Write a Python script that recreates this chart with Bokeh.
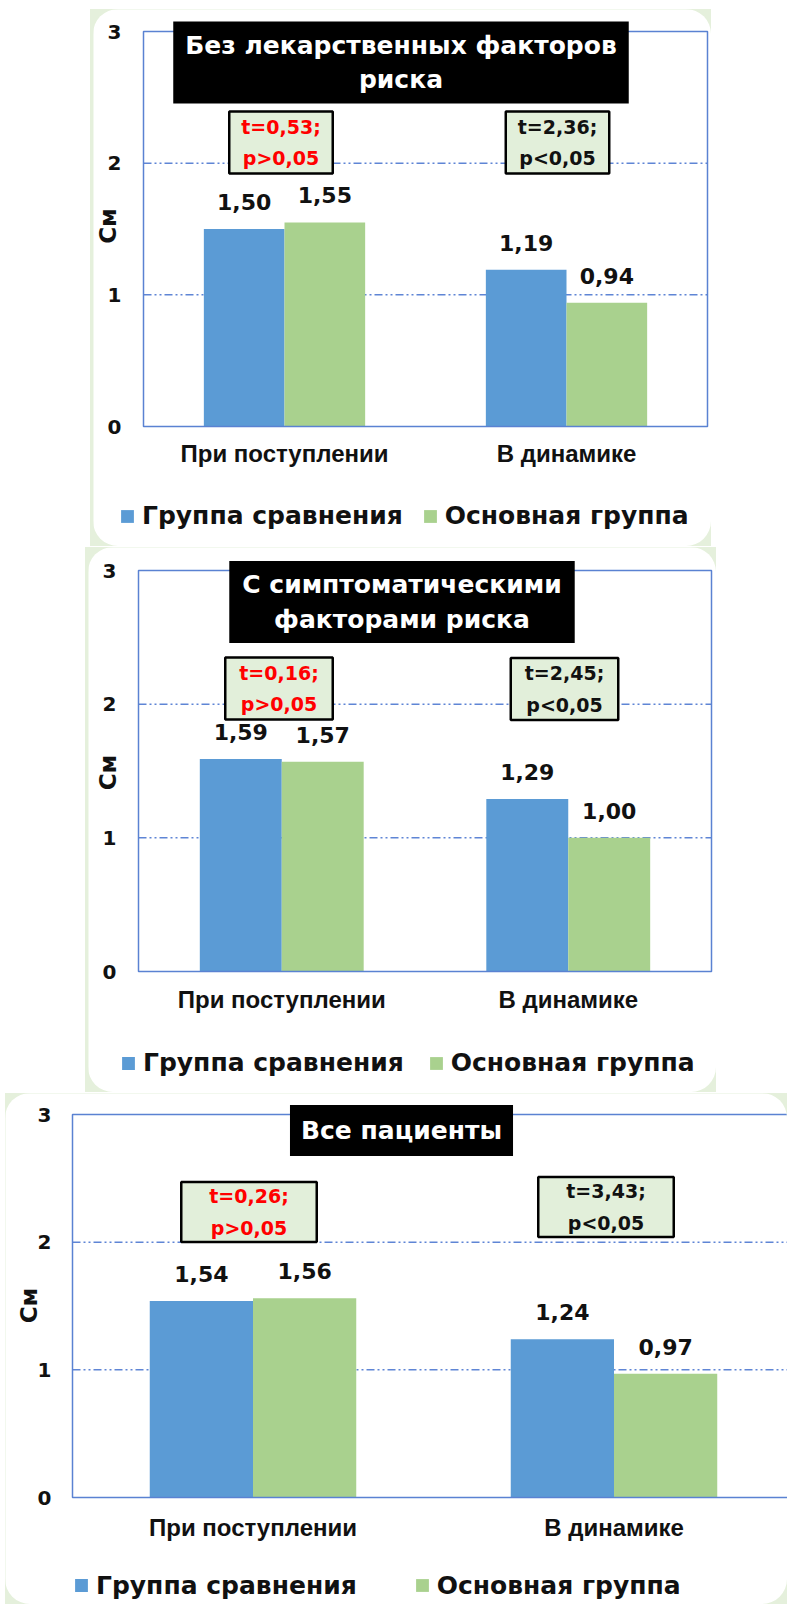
from math import pi

from bokeh.plotting import figure
from bokeh.models import (ColumnDataSource, Range1d, Label, LabelSet, Legend, LegendItem)
from bokeh.transform import dodge
from bokeh.layouts import column
from bokeh.core.properties import value
from bokeh.embed import file_html
from bokeh.resources import INLINE

# ---------------- data ----------------
categories = ["При поступлении", "В динамике"]
series_names = ["Группа сравнения", "Основная группа"]

p1_comparison = [1.50, 1.19]
p1_main = [1.55, 0.94]
p2_comparison = [1.59, 1.29]
p2_main = [1.57, 1.00]
p3_comparison = [1.54, 1.24]
p3_main = [1.56, 0.97]

panel_titles = ["Без лекарственных факторов\nриска",
                "С симптоматическими\nфакторами риска",
                "Все пациенты"]
t_values = [["0,53", "2,36"], ["0,16", "2,45"], ["0,26", "3,43"]]
p_values = [["p>0,05", "p<0,05"], ["p>0,05", "p<0,05"], ["p>0,05", "p<0,05"]]
y_ticks = [0, 1, 2, 3]
grid_ticks = [1, 2]
y_label = "См"

# ---------------- styles ----------------
BLUE = "#5B9BD5"
GREEN = "#A9D18E"
FRAME = "#5A82D2"
GRID = "#5F85D5"
CARD = "#E5F0DC"
STATFILL = "#E2EFDA"
INK = "#111111"
FONT = "DejaVu Sans"
CATFONT = "Liberation Sans"
BAR_W = 0.286


def fmt(v):
    return f"{v:.2f}".replace(".", ",")


def make_panel(comp, main, title, tvals, pvals, g):
    # g holds the page geometry of the card (fig) and of the 0..3 plot box (box)
    fx0, fy0, fw, fh = g["fig"]
    bx0, by0, cw, u = g["box"]          # box left/top, px per category, px per unit
    by_bottom = by0 + 3 * u
    ncat = len(categories)
    x_range = Range1d(-(bx0 - fx0) / cw, (fx0 + fw - bx0) / cw)
    y_range = Range1d(-(fy0 + fh - by_bottom) / u, (by_bottom - fy0) / u)

    p = figure(width=fw, height=fh, x_range=x_range, y_range=y_range,
               x_axis_type=None, y_axis_type=None, output_backend="svg",
               toolbar_location=None, title=None,
               min_border_left=0, min_border_right=0, min_border_top=0, min_border_bottom=0)
    p.border_fill_color = "white"
    p.background_fill_color = "white"
    p.outline_line_color = None

    def sx(px):
        return px - fx0

    def sy(py):
        return fy0 + fh - py

    pos = [i + 0.5 for i in range(ncat)]
    src = ColumnDataSource(dict(pos=pos, cat=categories, comp=comp, main=main,
                                comp_txt=[fmt(v) for v in comp],
                                main_txt=[fmt(v) for v in main]))

    # dash-dot-dot grid lines inside the plot box
    p.segment(x0=0, x1=ncat, y0=grid_ticks, y1=grid_ticks, line_color=GRID,
              line_width=1.5, line_dash="8 3 2 3 2 3")

    r1 = p.vbar(x=dodge("pos", -BAR_W / 2), top="comp", width=BAR_W, source=src,
                fill_color=BLUE, line_color=None)
    r2 = p.vbar(x=dodge("pos", BAR_W / 2), top="main", width=BAR_W, source=src,
                fill_color=GREEN, line_color=None)

    # plot-box border
    p.quad(left=0, right=ncat, bottom=0, top=max(y_ticks), fill_color=None,
           line_color=FRAME, line_width=1.5)

    # value labels
    for off, col in [(-BAR_W / 2, "comp"), (BAR_W / 2, "main")]:
        p.add_layout(LabelSet(x=dodge("pos", off), y=col, text=col + "_txt", source=src,
                              y_offset=27, text_align="center", text_baseline="middle",
                              text_font=value(FONT), text_font_style="bold",
                              text_font_size="22px", text_color=INK))

    # y tick labels
    tsrc = ColumnDataSource(dict(y=y_ticks, x=[0] * len(y_ticks),
                                 t=[str(t) for t in y_ticks]))
    p.add_layout(LabelSet(x="x", y="y", text="t", source=tsrc, x_offset=-g["tick_standoff"],
                          text_align="right", text_baseline="middle", text_font=value(FONT),
                          text_font_style="bold", text_font_size="20px", text_color=INK))

    # category labels
    p.add_layout(LabelSet(x="pos", y=0, text="cat", source=src, y_offset=-g["cat_off"],
                          text_align="center", text_baseline="middle",
                          text_font=value(CATFONT), text_font_style="bold",
                          text_font_size="24px", text_color=INK))

    # y axis title
    p.add_layout(Label(x=sx(g["cm"][0]), y=sy(g["cm"][1]), x_units="screen", y_units="screen",
                       text=y_label, angle=pi / 2, text_align="center", text_baseline="middle",
                       text_font=FONT, text_font_style="bold", text_font_size="23px",
                       text_color=INK))

    # title box
    p.add_layout(Label(x=sx(g["title"][0]), y=sy(g["title"][1]), x_units="screen",
                       y_units="screen", text=title, text_align="center",
                       text_baseline="middle", text_color="white", text_font=FONT,
                       text_font_style="bold", text_font_size="25px", text_line_height=1.2,
                       background_fill_color="black",
                       padding=dict(left=g["tpad"][0], right=g["tpad"][0],
                                    top=g["tpad"][1], bottom=g["tpad"][1])))

    # statistic boxes
    for i in range(2):
        p.add_layout(Label(x=sx(g["stats"][i][0]), y=sy(g["stats"][i][1]), x_units="screen",
                           y_units="screen", text=f"t={tvals[i]};\n{pvals[i]}",
                           text_align="center", text_baseline="middle",
                           text_color="#FF0000" if i == 0 else INK,
                           text_font=FONT, text_font_style="bold", text_font_size="19px",
                           text_line_height=1.45, background_fill_color=STATFILL,
                           border_line_color="black", border_line_width=2.5,
                           padding=dict(left=g["spad"][0], right=g["spad"][0],
                                        top=g["spad"][1], bottom=g["spad"][1])))

    legend = Legend(items=[LegendItem(label=series_names[0], renderers=[r1]),
                           LegendItem(label=series_names[1], renderers=[r2])],
                    location=(sx(g["legend"][0]), sy(g["legend"][1])),
                    orientation="horizontal",
                    glyph_width=16, glyph_height=16, label_standoff=7, spacing=g["lsp"],
                    padding=0, margin=0, border_line_color=None, background_fill_alpha=0,
                    label_text_font=FONT, label_text_font_style="bold",
                    label_text_font_size="25px", label_text_color=INK)
    p.add_layout(legend)

    p.styles = {"border-radius": "25px", "overflow": "hidden"}
    return p


# page geometry in pixels
geoms = [
    dict(fig=(93, 9, 618, 537), box=(143, 31, 282, 131.67),
         tick_standoff=22, cat_off=27, cm=(107.5, 225.5),
         title=(400.5, 62), tpad=(12, 9),
         stats=[(280.5, 142), (557, 142)], spad=(12, 4),
         legend=(119, 530), lsp=19),
    dict(fig=(88, 547, 628, 545), box=(138, 570, 286.5, 133.67),
         tick_standoff=22, cat_off=28, cm=(107, 772),
         title=(401.5, 601.5), tpad=(13, 9),
         stats=[(278.5, 688), (564, 688.5)], spad=(14, 4),
         legend=(120, 1077), lsp=24),
    dict(fig=(5, 1093, 782, 511), box=(72, 1114, 361, 127.67),
         tick_standoff=21, cat_off=30, cm=(28, 1305),
         title=(401, 1130), tpad=(11, 11),
         stats=[(248.5, 1211.5), (605.5, 1206.5)], spad=(28, 3),
         legend=(73, 1599.5), lsp=57),
]

data = [(p1_comparison, p1_main), (p2_comparison, p2_main), (p3_comparison, p3_main)]

plots = []
for k in range(3):
    plots.append(make_panel(data[k][0], data[k][1], panel_titles[k], t_values[k],
                            p_values[k], geoms[k]))

plots[0].margin = (0, 0, 0, 3)
plots[1].margin = (0, 0, 0, 3)
plots[2].margin = (0, 0, 0, 0)

w1 = column(plots[0], styles={"background-color": CARD}, margin=(9, 0, 0, 90))
w2 = column(plots[1], styles={"background-color": CARD}, margin=(1, 0, 0, 85))
w3 = column(plots[2], styles={"background-color": CARD}, margin=(1, 0, 0, 5))

layout = column(w1, w2, w3)

open("out.html", "w").write(file_html(layout, INLINE))
